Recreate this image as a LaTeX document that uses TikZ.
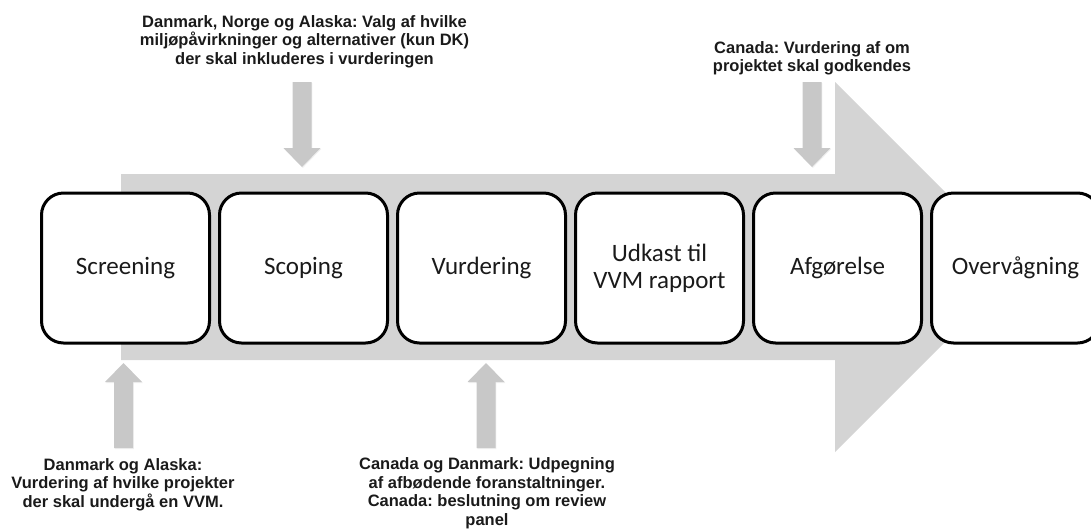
\documentclass[tikz,border=0pt]{standalone}
\usepackage{fontspec}
\usetikzlibrary{shadows}
\newfontfamily\boxfont{Carlito}
\newfontfamily\lblfont{Liberation Sans}
\frenchspacing
\definecolor{bigarrow}{RGB}{212,212,212}
\definecolor{smallarrow}{RGB}{200,200,200}
\definecolor{txt}{RGB}{26,26,26}
\tikzset{
  stage/.style={draw=black, line width=3pt, fill=white, rounded corners=22pt,
    minimum width=168pt, minimum height=150pt, align=center, inner sep=0pt,
    font=\boxfont\fontsize{25}{27}\selectfont, text=txt},
  lbl/.style={align=center, inner sep=0pt, anchor=base,
    font=\lblfont\bfseries\fontsize{16.5}{18.5}\selectfont, text=txt},
  blk/.style={fill=smallarrow, drop shadow={shadow xshift=0.8pt, shadow yshift=-1pt, opacity=0.12}},
  downblk/.pic={\fill[blk] (-9.5,0) -- (9.5,0) -- (9.5,66) -- (18.5,66) -- (0,85) -- (-18.5,66) -- (-9.5,66) -- cycle;},
  upblk/.pic={\fill[blk] (-9.5,85) -- (9.5,85) -- (9.5,19) -- (18.5,19) -- (0,0) -- (-18.5,19) -- (-9.5,19) -- cycle;}
}
\begin{document}
\begin{tikzpicture}[x=1pt,y=-1pt]
\useasboundingbox (0,0) rectangle (1091,528);
\clip (0,0) rectangle (1091,528);
% big process arrow
\fill[bigarrow] (121,174) -- (835,174) -- (835,82) -- (1020,267) -- (835,452) -- (835,360) -- (121,360) -- cycle;
% small block arrows
\coordinate (scopingin) at (302,82);
\coordinate (afgin) at (812,82);
\coordinate (screenin) at (123.5,363);
\coordinate (vurdin) at (486,363);
\pic at (scopingin) {downblk};
\pic at (afgin) {downblk};
\pic at (screenin) {upblk};
\pic at (vurdin) {upblk};
% stages
\node[stage] (screening) at (125.5,268) {Screening};
\node[stage] (scoping) at (303.5,268) {Scoping};
\node[stage] (vurdering) at (481.5,268) {Vurdering};
\node[stage] (udkast) at (659.5,268) {Udkast til\\VVM rapport};
\node[stage] (afgorelse) at (837.5,268) {Afgørelse};
\node[stage] (overvagning) at (1015.5,268) {Overvågning};
% labels (anchor = baseline of last line)
\node[lbl] (scopinglbl) at (304.5,64) {Danmark, Norge og Alaska: Valg af hvilke\\miljøpåvirkninger og alternativer (kun DK)\\der skal inkluderes i vurderingen};
\node[lbl] (afglbl) at (812,71.5) {Canada: Vurdering af om\\projektet skal godkendes};
\node[lbl] (screenlbl) at (123,507) {Danmark og Alaska:\\Vurdering af hvilke projekter\\der skal undergå en VVM.};
\node[lbl] (vurdlbl) at (487,525) {Canada og Danmark: Udpegning\\af afbødende foranstaltninger.\\Canada: beslutning om review\\panel};
\end{tikzpicture}
\end{document}
